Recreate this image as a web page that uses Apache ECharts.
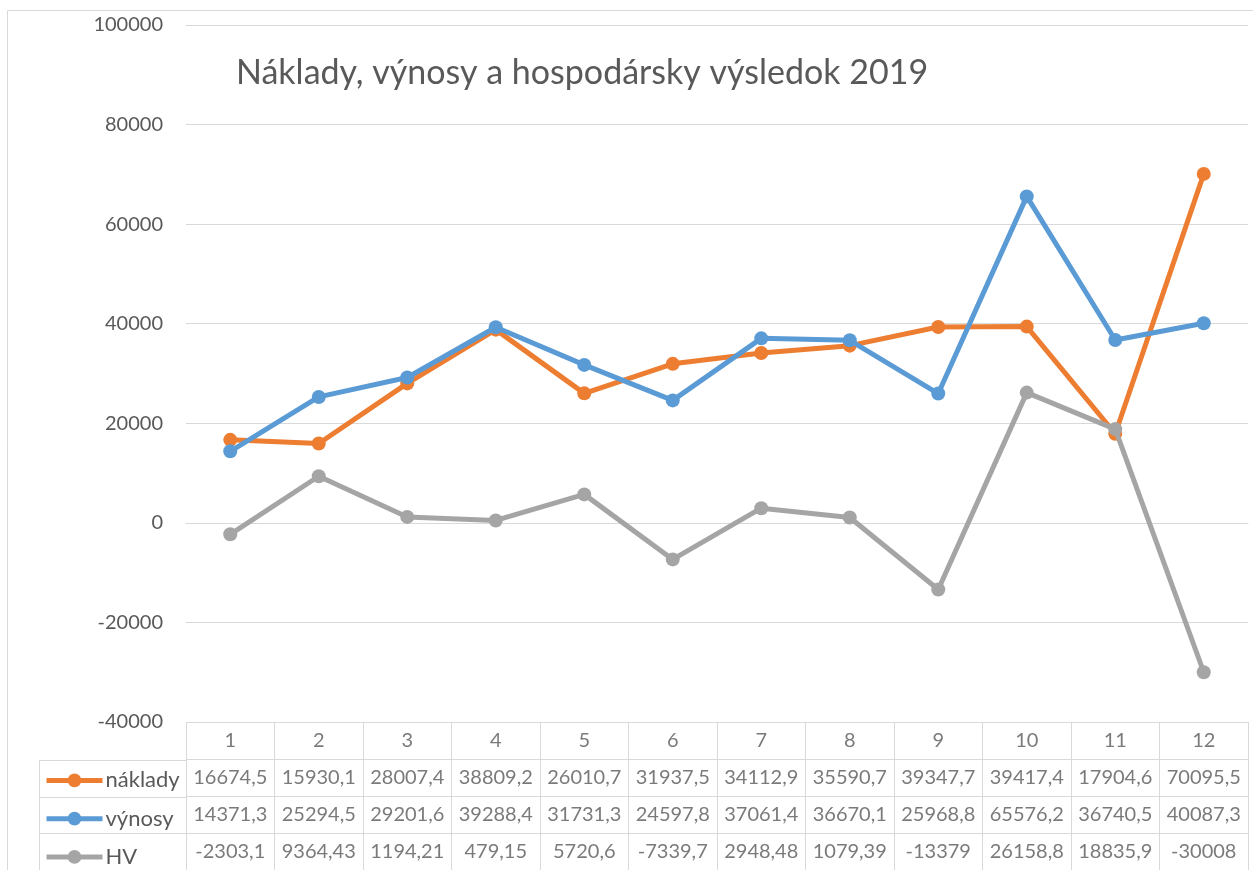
<!DOCTYPE html>
<html>
<head>
    <meta charset="utf-8">
    <title>Náklady, výnosy a hospodársky výsledok 2019</title>
    <script src="https://cdn.jsdelivr.net/npm/echarts@6/dist/echarts.min.js"></script>
    <style>
        html, body { margin: 0; padding: 0; background: #fff; }
        #chart { width: 1253px; height: 870px; }
    </style>
</head>
<body>
<div id="chart"></div>
<script>
    // data (as in the data table under the chart)
    var categories = ['1', '2', '3', '4', '5', '6', '7', '8', '9', '10', '11', '12'];
    var seriesNames = ['náklady', 'výnosy', 'HV'];
    var naklady = [16674.5, 15930.1, 28007.4, 38809.2, 26010.7, 31937.5, 34112.9, 35590.7, 39347.7, 39417.4, 17904.6, 70095.5];
    var vynosy = [14371.3, 25294.5, 29201.6, 39288.4, 31731.3, 24597.8, 37061.4, 36670.1, 25968.8, 65576.2, 36740.5, 40087.3];
    var hv = [-2303.1, 9364.43, 1194.21, 479.15, 5720.6, -7339.7, 2948.48, 1079.39, -13379, 26158.8, 18835.9, -30008];
    var yMin = -40000, yMax = 100000, yStep = 20000;

    var colors = ['#ED7D31', '#5B9BD5', '#A5A5A5'];
    var txt = '#595959', border = '#D9D9D9';
    var font = 'Lato';

    var values = [naklady, vynosy, hv];

    // table rows: header 722..760, then one row per series
    var rowTop = 722, rowH = 38.25;

    // cells of the data table: [column, row, text]; row 0 = header
    var cells = [];
    categories.forEach(function (c, i) { cells.push([i, 0, c]); });
    values.forEach(function (arr, r) {
        arr.forEach(function (v, i) {
            cells.push([i, r + 1, String(v).replace('.', ',')]);
        });
    });

    var myChart = echarts.init(document.getElementById('chart'));

    var lineSeries = seriesNames.map(function (name, k) {
        return {
            name: name,
            type: 'line',
            xAxisIndex: 0,
            yAxisIndex: 0,
            data: values[k],
            symbol: 'circle',
            symbolSize: 14,
            lineStyle: { width: 5, color: colors[k] },
            itemStyle: { color: colors[k] },
            z: 3 + k
        };
    });

    // one legend per table row, so each key sits in its own row
    var legends = seriesNames.map(function (name, k) {
        return {
            orient: 'horizontal',
            left: 44,
            top: rowTop + rowH * (k + 1.5) - 10,
            padding: 0,
            itemWidth: 56,
            itemHeight: 17,
            data: [name],
            lineStyle: { width: 5 },
            textStyle: { fontSize: 22, lineHeight: 18, color: txt, fontFamily: font, padding: [0, 0, 0, -2] }
        };
    });

    myChart.setOption({
        animation: false,
        textStyle: { fontFamily: font },
        title: {
            text: 'Náklady, výnosy a hospodársky výsledok 2019',
            left: 231,
            top: 51,
            textStyle: { fontSize: 34, fontWeight: 'normal', color: txt, fontFamily: font }
        },
        legend: legends,
        graphic: [{
            type: 'rect',
            shape: { x: 7.5, y: 10.5, width: 1400, height: 1000 },
            style: { fill: 'none', stroke: border, lineWidth: 1 },
            silent: true
        }],
        grid: [
            { left: 186, right: 5, top: 25, height: 697 },
            { left: 186, right: 5, top: rowTop, height: rowH * 4 },
            { left: 39, width: 147, top: rowTop + rowH, height: rowH * 3 }
        ],
        xAxis: [
            {
                type: 'category', gridIndex: 0, data: categories, boundaryGap: true,
                axisLine: { show: true, lineStyle: { color: border } },
                axisTick: { show: false }, axisLabel: { show: false }
            },
            {
                type: 'category', gridIndex: 1, data: categories, boundaryGap: true,
                axisLine: { show: false }, axisTick: { show: false, interval: 0 },
                axisLabel: { show: false },
                splitLine: { show: true, interval: 0, lineStyle: { color: border } }
            },
            { type: 'value', gridIndex: 2, show: false }
        ],
        yAxis: [
            {
                type: 'value', gridIndex: 0, min: yMin, max: yMax, interval: yStep,
                axisLine: { show: false }, axisTick: { show: false },
                axisLabel: {
                    fontSize: 20, color: txt, margin: 23, fontFamily: font,
                    formatter: function (v) { return String(v); }
                },
                splitLine: { lineStyle: { color: border } }
            },
            {
                type: 'category', gridIndex: 1, data: ['0', '1', '2', '3'], inverse: true,
                axisLine: { show: false }, axisTick: { show: false, interval: 0 },
                axisLabel: { show: false },
                splitLine: { show: true, interval: 0, lineStyle: { color: border } }
            },
            {
                type: 'category', gridIndex: 2, data: seriesNames, inverse: true,
                axisLine: { show: true, lineStyle: { color: border } },
                axisTick: { show: false, interval: 0 }, axisLabel: { show: false },
                splitLine: { show: true, interval: 0, lineStyle: { color: border } }
            }
        ],
        series: lineSeries.concat([{
            name: 'table',
            type: 'scatter',
            xAxisIndex: 1,
            yAxisIndex: 1,
            symbolSize: 0,
            data: cells,
            silent: true,
            label: {
                show: true,
                position: 'inside',
                formatter: function (p) { return p.value[2]; },
                fontSize: 20,
                color: txt,
                fontFamily: font
            }
        }])
    });
</script>
</body>
</html>
